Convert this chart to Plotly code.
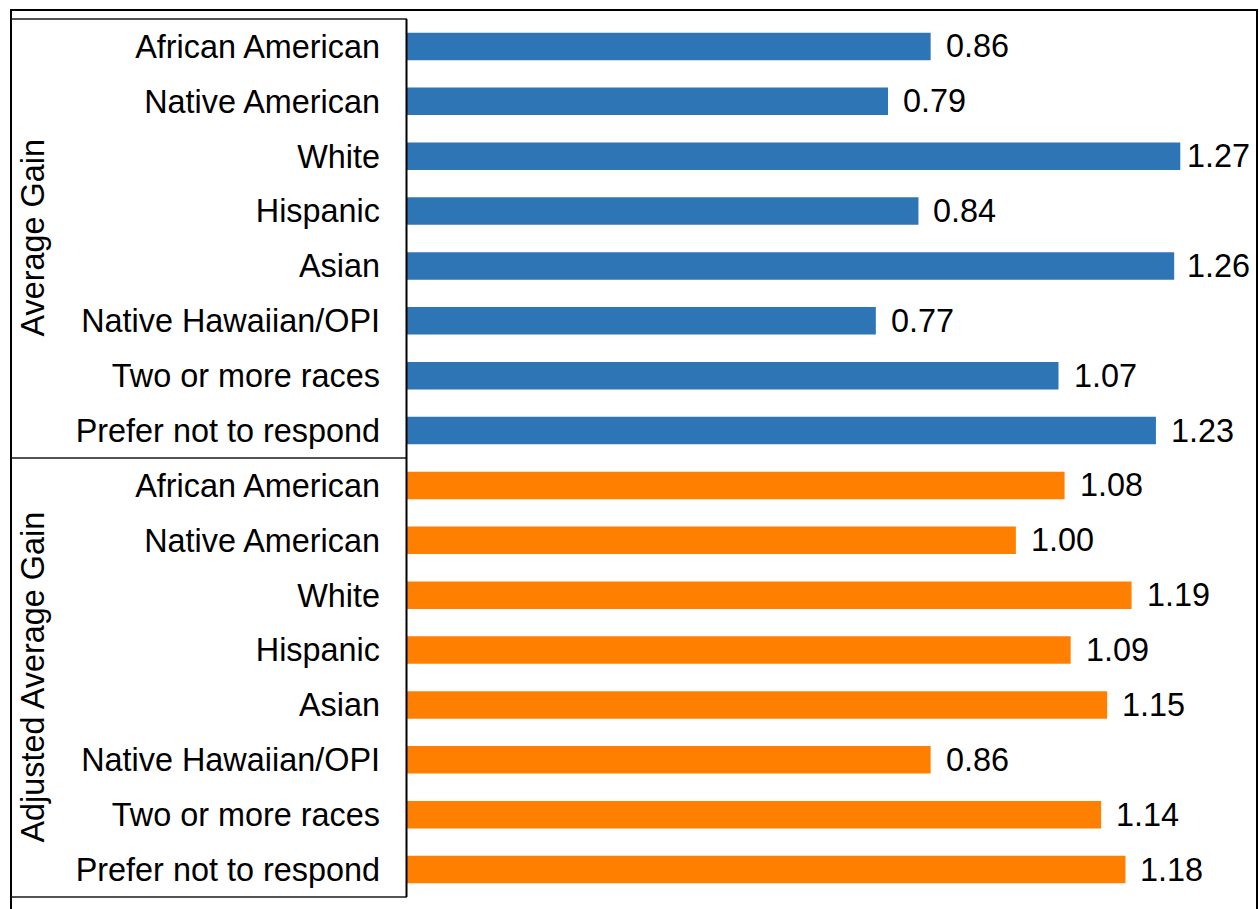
import plotly.graph_objects as go

# Race / ethnicity categories (shared by both groups)
categories = [
    "African American",
    "Native American",
    "White",
    "Hispanic",
    "Asian",
    "Native Hawaiian/OPI",
    "Two or more races",
    "Prefer not to respond",
]

group_names = ["Average Gain", "Adjusted Average Gain"]
average_gain = [0.86, 0.79, 1.27, 0.84, 1.26, 0.77, 1.07, 1.23]
adjusted_average_gain = [1.08, 1.00, 1.19, 1.09, 1.15, 0.86, 1.14, 1.18]

group_values = [average_gain, adjusted_average_gain]
group_colors = ["#2E75B6", "#FF8000"]

W, H = 1259, 909
M_L, M_R, M_T, M_B = 407, 2, 19, 12
PW = W - M_L - M_R
PH = H - M_T - M_B
X_MAX = 1.396

FONT = "Arial, Liberation Sans, sans-serif"
FS = 32.4
LABEL_GAP = 13
LABEL_W = 62  # approx. width of a "d.dd" label at this font size
RIGHT_PAD = 10


def px_x(px):
    return (px - M_L) / PW


def px_y(py):
    return (H - M_B - py) / PH


def label_shift(v):
    # keep value labels inside the plotting area
    bar_end = v / X_MAX * PW
    room = PW - RIGHT_PAD - bar_end - LABEL_W
    return min(LABEL_GAP, room)


fig = go.Figure()

tickvals, ticktext = [], []
annotations = []
n = len(categories)
for g, (vals, color) in enumerate(zip(group_values, group_colors)):
    ys = [g * n + i for i in range(n)]
    tickvals += ys
    ticktext += categories
    fig.add_trace(go.Bar(
        x=vals, y=ys, orientation="h", width=0.5,
        marker=dict(color=color, line=dict(width=0)),
        showlegend=False, hoverinfo="skip",
    ))
    for v, y in zip(vals, ys):
        annotations.append(dict(
            x=v, y=y, xref="x", yref="y", text=f"{v:.2f}",
            showarrow=False, xanchor="left", yanchor="middle",
            xshift=label_shift(v),
            font=dict(family=FONT, size=FS, color="#000000"),
        ))
    # Rotated group label on the left
    annotations.append(dict(
        x=px_x(32), y=1 - (g + 0.5) / len(group_values),
        xref="paper", yref="paper", text=group_names[g],
        textangle=-90, showarrow=False, xanchor="center", yanchor="middle",
        font=dict(family=FONT, size=FS, color="#000000"),
    ))

line_k = dict(color="#000000", width=2)
line_in = dict(color="#1a1a1a", width=1.6)
shapes = [
    # outer frame
    dict(type="line", xref="paper", yref="paper", x0=px_x(10), x1=px_x(1258), y0=px_y(10), y1=px_y(10), line=line_k),
    dict(type="line", xref="paper", yref="paper", x0=px_x(11), x1=px_x(11), y0=px_y(9), y1=px_y(912), line=line_k),
    dict(type="line", xref="paper", yref="paper", x0=px_x(1257), x1=px_x(1257), y0=px_y(9), y1=px_y(912), line=line_k),
    # label box
    dict(type="line", xref="paper", yref="paper", x0=px_x(11), x1=px_x(407), y0=1, y1=1, line=line_in),
    dict(type="line", xref="paper", yref="paper", x0=px_x(11), x1=px_x(407), y0=0.5, y1=0.5, line=line_in),
    dict(type="line", xref="paper", yref="paper", x0=px_x(11), x1=px_x(407), y0=0, y1=0, line=line_in),
    dict(type="line", xref="paper", yref="paper", x0=px_x(406.5), x1=px_x(406.5), y0=0, y1=1, line=line_k),
]

fig.update_layout(
    width=W, height=H,
    margin=dict(l=M_L, r=M_R, t=M_T, b=M_B, pad=0),
    paper_bgcolor="#ffffff", plot_bgcolor="#ffffff",
    font=dict(family=FONT, size=FS, color="#000000"),
    bargap=0.5,
    xaxis=dict(range=[0, X_MAX], showgrid=False, zeroline=False, showticklabels=False,
               showline=False, ticks=""),
    yaxis=dict(range=[2 * n - 0.5, -0.5], tickvals=tickvals, ticktext=ticktext,
               showgrid=False, zeroline=False, showline=False, ticks="",
               ticklabelstandoff=26,
               tickfont=dict(family=FONT, size=FS, color="#000000")),
    shapes=shapes,
    annotations=annotations,
)

fig.write_html("out.html")
